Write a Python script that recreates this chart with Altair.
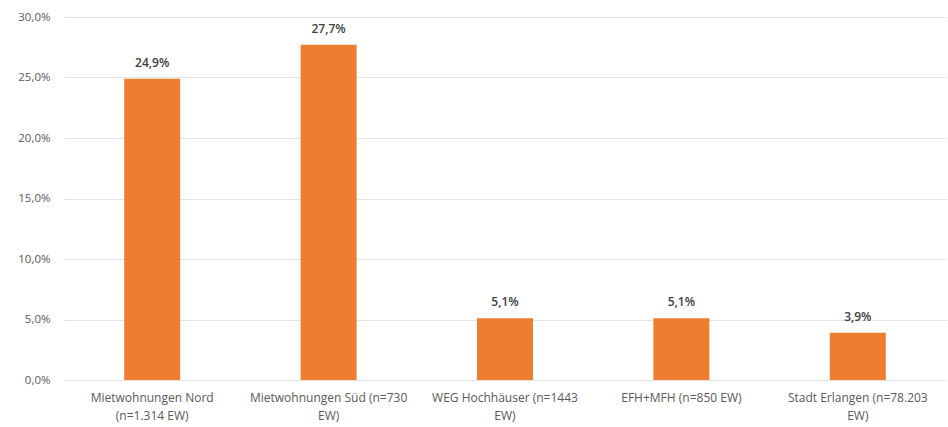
import altair as alt
import pandas as pd

# Share of residents per area
categories = [
    "Mietwohnungen Nord (n=1.314 EW)",
    "Mietwohnungen Süd (n=730 EW)",
    "WEG Hochhäuser (n=1443 EW)",
    "EFH+MFH (n=850 EW)",
    "Stadt Erlangen (n=78.203 EW)",
]
values = [24.9, 27.7, 5.1, 5.1, 3.9]

# Two-line axis labels, as wrapped in the chart
label_lines = [
    ["Mietwohnungen Nord", "(n=1.314 EW)"],
    ["Mietwohnungen Süd (n=730", "EW)"],
    ["WEG Hochhäuser (n=1443", "EW)"],
    ["EFH+MFH (n=850 EW)"],
    ["Stadt Erlangen (n=78.203", "EW)"],
]
y_ticks = [0, 5, 10, 15, 20, 25, 30]

df = pd.DataFrame({"cat": categories, "val": values})


def js_list(items):
    return "[" + ", ".join("'" + s.replace("'", "\\'") + "'" for s in items) + "]"


label_expr = ""
for cat, lines in zip(categories, label_lines):
    label_expr += f"datum.label === '{cat}' ? {js_list(lines)} : "
label_expr += "datum.label"

FONT = "Open Sans"
ORANGE = "#EE7D30"

base = alt.Chart(df).encode(
    x=alt.X(
        "cat:N",
        sort=categories,
        title=None,
        scale=alt.Scale(paddingInner=0.68, paddingOuter=0.34),
        axis=alt.Axis(
            labelExpr=label_expr,
            labelAngle=0,
            labelFont=FONT,
            labelFontSize=12,
            labelColor="#595959",
            labelPadding=12,
            labelLineHeight=18,
            labelBaseline="top",
            domain=False,
            ticks=False,
            grid=False,
            labelLimit=300,
        ),
    ),
    y=alt.Y(
        "val:Q",
        title=None,
        scale=alt.Scale(domain=[0, 30], nice=False),
        axis=alt.Axis(
            values=y_ticks,
            labelExpr="replace(format(datum.value, '.1f'), '.', ',') + '%'",
            labelFont=FONT,
            labelFontSize=11.5,
            labelColor="#595959",
            labelPadding=14,
            domain=False,
            ticks=False,
            gridColor="#E3E3E3",
            gridWidth=1,
        ),
    ),
)

bars = base.mark_bar(color=ORANGE, size=56)

labels = base.transform_calculate(
    txt="replace(format(datum.val, '.1f'), '.', ',') + '%'"
).mark_text(
    baseline="bottom",
    dy=-9,
    font=FONT,
    fontSize=12,
    fontWeight=600,
    color="#404040",
).encode(text="txt:N")

chart = (
    alt.layer(bars, labels)
    .properties(
        width=882,
        height=363,
        autosize=alt.AutoSizeParams(type="none"),
        padding={"left": 64, "top": 17, "right": 2, "bottom": 47},
    )
    .configure(background="white")
    .configure_view(stroke="transparent", strokeWidth=0)
)

chart.save("out.html", embed_options={"renderer": "svg", "actions": False})
